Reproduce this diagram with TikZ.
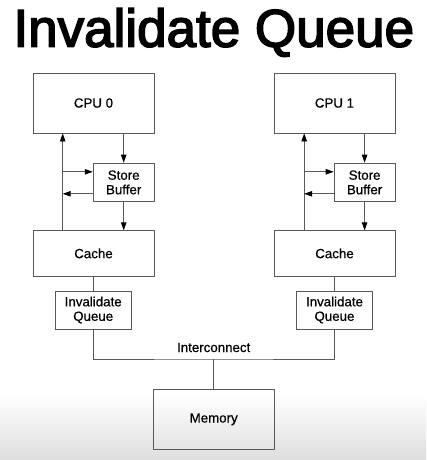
\documentclass[tikz,border=0pt]{standalone}
\usepackage{fontspec}
\setmainfont{Liberation Sans}
\newfontfamily\titlefont[FakeBold=3]{Liberation Sans}
\newfontfamily\labelfont[FakeBold=0.6]{Liberation Sans}
\usetikzlibrary{arrows.meta}
\begin{document}
\begin{tikzpicture}[x=1pt,y=-1pt,
  box/.style={draw=black!65,line width=0.8pt,inner sep=0pt,align=center,font=\labelfont\fontsize{13.3}{14.5}\selectfont},
  wire/.style={draw=black!65,line width=0.8pt},
  arr/.style={wire,-{Triangle[length=8pt,width=5.5pt,color=black]}}]
\useasboundingbox (0,0) rectangle (426,460);
\shade[top color=white,bottom color=black!13] (0,395) rectangle (426,460);
\node[font=\titlefont\fontsize{53}{60}\selectfont,anchor=base] (title) at (213.8,46.7) {Invalidate Queue};
% left CPU
\node[box,minimum width=121pt,minimum height=60pt] (cpu0) at (93.5,103) {CPU 0};
\node[box,minimum width=61pt,minimum height=38.7pt] (sb0) at (123.7,182.4) {Store\\Buffer};
\node[box,minimum width=121pt,minimum height=45.3pt] (cache0) at (93.5,253.4) {Cache};
\node[box,minimum width=75.7pt,minimum height=38pt] (iq0) at (93.2,310) {Invalidate\\Queue};
\coordinate (x0) at (62.7,0);
% right CPU
\node[box,minimum width=121pt,minimum height=60pt] (cpu1) at (334.5,103) {CPU 1};
\node[box,minimum width=61pt,minimum height=38.7pt] (sb1) at (364.6,182.4) {Store\\Buffer};
\node[box,minimum width=121pt,minimum height=45.3pt] (cache1) at (334.5,253.4) {Cache};
\node[box,minimum width=75.7pt,minimum height=38pt] (iq1) at (334.5,310) {Invalidate\\Queue};
\coordinate (x1) at (304.2,0);
% memory
\node[box,minimum width=120.7pt,minimum height=60pt] (mem) at (213.7,419.3) {Memory};
\coordinate (bus) at (213.7,359);
\node[font=\labelfont\fontsize{13.3}{14.5}\selectfont] (ic) at (213.7,347.5) {Interconnect};
% connectors left
\draw[arr] (cache0.north -| x0) -- (cpu0.south -| x0);
\draw[arr] (cpu0.south -| sb0) -- (sb0.north);
\draw[arr] (sb0.south) -- (sb0.south |- cache0.north);
\draw[arr] ([yshift=-11.4pt]sb0.west) -- ([yshift=-11.4pt]sb0.west -| x0);
\draw[arr] ([yshift=10.6pt]sb0.west -| x0) -- ([yshift=10.6pt]sb0.west);
\draw[wire] (cache0.south -| iq0) -- (iq0.north);
% connectors right
\draw[arr] (cache1.north -| x1) -- (cpu1.south -| x1);
\draw[arr] (cpu1.south -| sb1) -- (sb1.north);
\draw[arr] (sb1.south) -- (sb1.south |- cache1.north);
\draw[arr] ([yshift=-11.4pt]sb1.west) -- ([yshift=-11.4pt]sb1.west -| x1);
\draw[arr] ([yshift=10.6pt]sb1.west -| x1) -- ([yshift=10.6pt]sb1.west);
\draw[wire] (cache1.south -| iq1) -- (iq1.north);
% bus
\draw[wire] (iq0.south) |- (bus) -| (iq1.south);
\draw[wire] (bus) -- (mem.north);
\end{tikzpicture}
\end{document}
